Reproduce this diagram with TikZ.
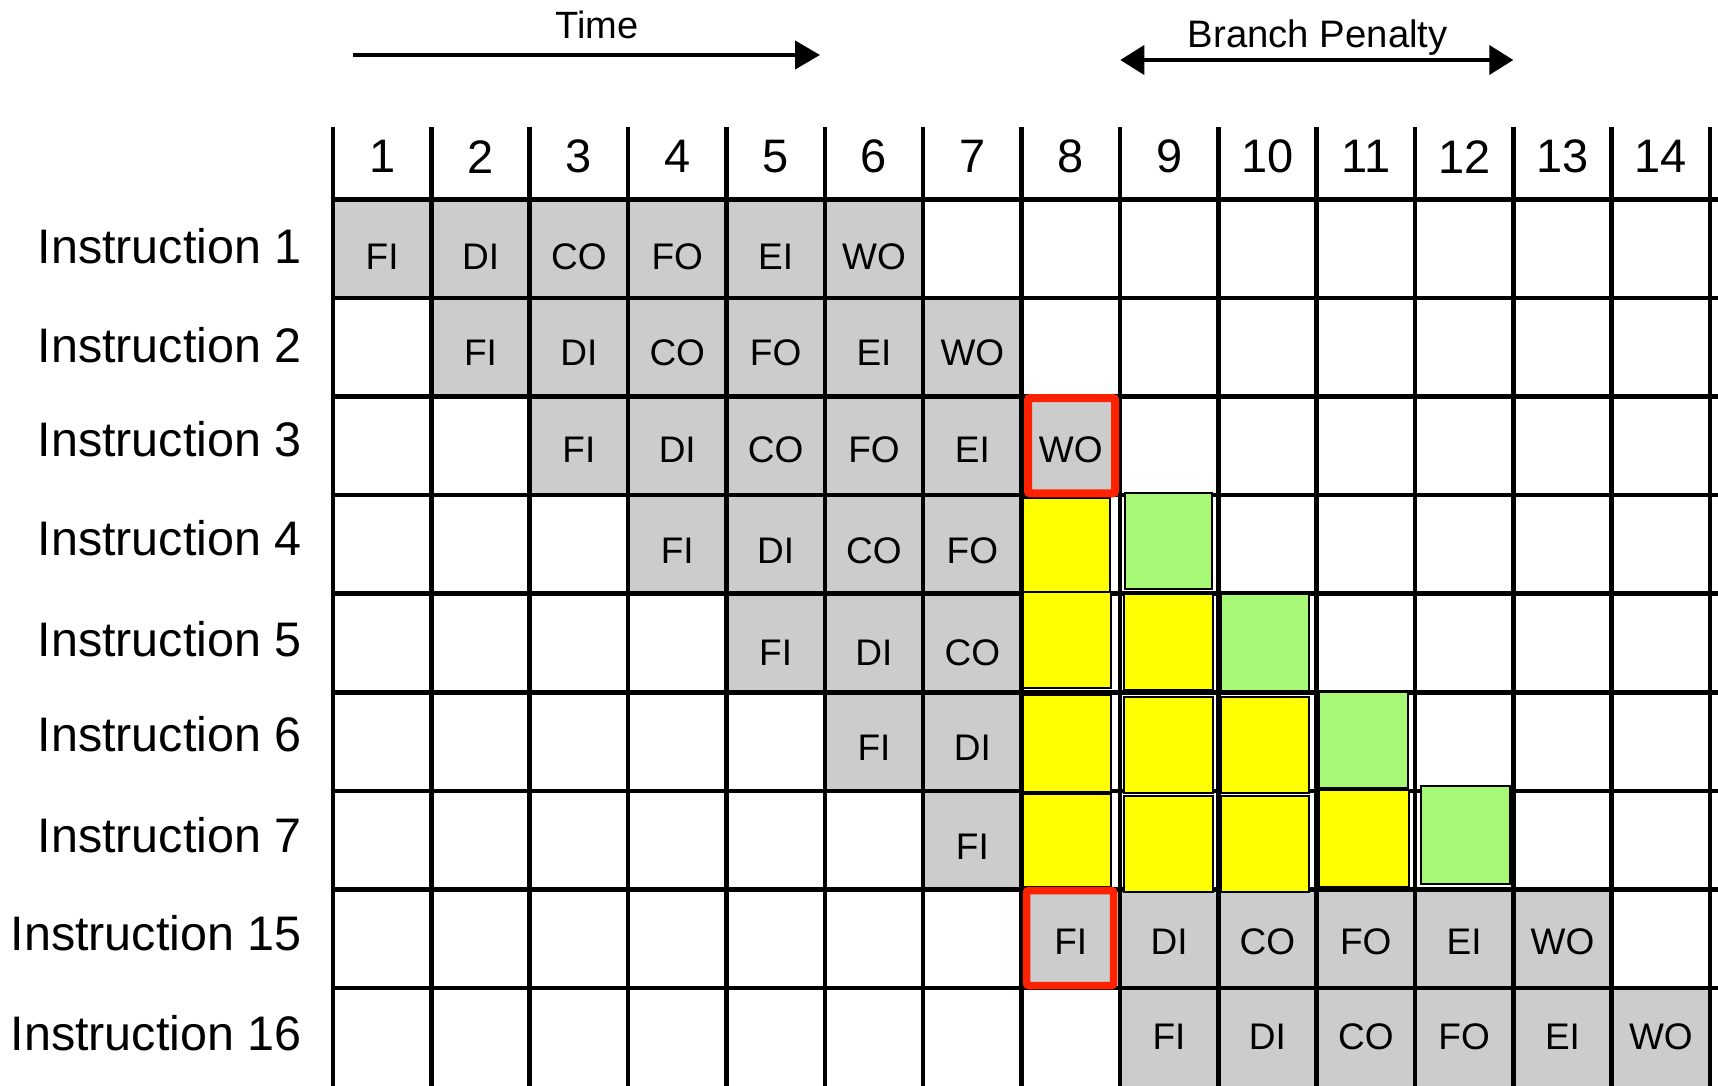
\documentclass[tikz,border=0pt]{standalone}
\usepackage{fontspec}
\setmainfont{Liberation Sans}
\usetikzlibrary{arrows.meta}
\definecolor{cellgrey}{HTML}{CCCCCC}
\definecolor{stallyellow}{HTML}{FFFF00}
\definecolor{stallgreen}{HTML}{A8F878}
\definecolor{markred}{HTML}{FF2200}
\newcommand\stagename[1]{\ifcase#1\or FI\or DI\or CO\or FO\or EI\or WO\fi}
\tikzset{
  gridline/.style={line width=4.5pt, black},
  celltext/.style={inner sep=0pt, font=\fontsize{37}{44}\selectfont},
  hdrtext/.style={inner sep=0pt, font=\fontsize{47}{56}\selectfont},
  rowlabel/.style={inner sep=0pt, anchor=east, font=\fontsize{48.5}{58}\selectfont},
  toptext/.style={inner sep=0pt, anchor=base},
  ybox/.style={fill=stallyellow, draw=black, line width=2pt},
  gbox/.style={fill=stallgreen, draw=black, line width=2pt},
  redbox/.style={draw=markred, rounded corners=2pt},
  arrowline/.style={line width=4pt, black}
}
\begin{document}
\begin{tikzpicture}[x=1pt,y=-1pt]
\useasboundingbox (0,0) rectangle (1718,1086);
\fill[white] (0,0) rectangle (1718,1086);
% grey cells
\foreach \r/\s/\n in {1/1/6,2/2/6,3/3/6,4/4/4,5/5/3,6/6/2,7/7/1,8/8/6,9/9/6}{
  \foreach \i in {1,...,\n}{
    \pgfmathsetmacro\c{\s+\i-1}
    \fill[cellgrey] ({333+(\c-1)*98.36},{199.3+(\r-1)*98.6}) rectangle +(98.36,98.6);
  }
}
% grid
\foreach \k in {0,...,14}
  \draw[gridline] ({333+\k*98.36},127) -- ({333+\k*98.36},1090);
\foreach \k in {0,...,8}
  \draw[gridline] (331,{199.3+\k*98.6}) -- (1720,{199.3+\k*98.6});
% yellow stall boxes
\draw[ybox] (1023.3,498.3) rectangle (1110,591.7);
\draw[ybox] (1023.3,592.3) rectangle (1110.7,688.3);
\draw[ybox] (1124.3,594) rectangle (1212.7,690);
\draw[ybox] (1023.3,695) rectangle (1110.7,791.7);
\draw[ybox] (1124.3,696.7) rectangle (1212.7,792.7);
\draw[ybox] (1221,696.7) rectangle (1309.3,792.7);
\draw[ybox] (1023.3,794.3) rectangle (1110.7,886.7);
\draw[ybox] (1124.3,796) rectangle (1212.7,892.3);
\draw[ybox] (1221,796) rectangle (1309.3,892.3);
\draw[ybox] (1319.3,790) rectangle (1408.7,887.3);
% green boxes
\draw[gbox] (1125,493.3) rectangle (1212.3,589.3);
\draw[gbox] (1221,594) rectangle (1309.3,690.7);
\draw[gbox] (1319.3,691.7) rectangle (1407.7,788.3);
\draw[gbox] (1420.7,786) rectangle (1510,884);
% red marks
\draw[redbox, line width=8pt] (1028,398) rectangle (1115,493.3);
\draw[redbox, line width=7.5pt] (1026.7,890.5) rectangle (1113.5,985.5);
% stage texts
\foreach \r/\s/\n/\dy in {1/1/6/57,2/2/6/55,3/3/6/53,4/4/4/56,5/5/3/59,6/6/2/55,7/7/1/56,8/8/6/52,9/9/6/49}{
  \foreach \i in {1,...,\n}{
    \pgfmathtruncatemacro\c{\s+\i-1}
    \node[celltext] (s\r-\c) at ({333+(\c-0.5)*98.36},{199.3+(\r-1)*98.6+\dy}) {\stagename{\i}};
  }
}
% header numbers
\foreach \k in {1,...,14}
  \node[hdrtext] (h\k) at ({333+(\k-0.5)*98.36},156.7) {\k};
% row labels
\foreach \r/\lab/\yy in {1/1/246.5,2/2/345,3/3/439.4,4/4/538,5/5/638.8,6/6/734,7/7/835,8/15/933.5,9/16/1033.2}
  \node[rowlabel] (l\r) at (302,\yy) {Instruction \lab};
% top arrows
\coordinate (t0) at (353,55);
\coordinate (t1) at (820,55);
\draw[arrowline, -{Triangle[length=25pt,width=28pt]}] (t0) -- (t1);
\node[toptext, font=\fontsize{38}{45}\selectfont] (time) at (596.7,38.5) {Time};
\coordinate (b0) at (1120.3,60);
\coordinate (b1) at (1513.3,60);
\draw[arrowline, {Triangle[length=24pt,width=29pt]}-{Triangle[length=24pt,width=29pt]}] (b0) -- (b1);
\node[toptext, font=\fontsize{38.3}{46}\selectfont] (bp) at (1317.8,48) {Branch Penalty};
\end{tikzpicture}
\end{document}
